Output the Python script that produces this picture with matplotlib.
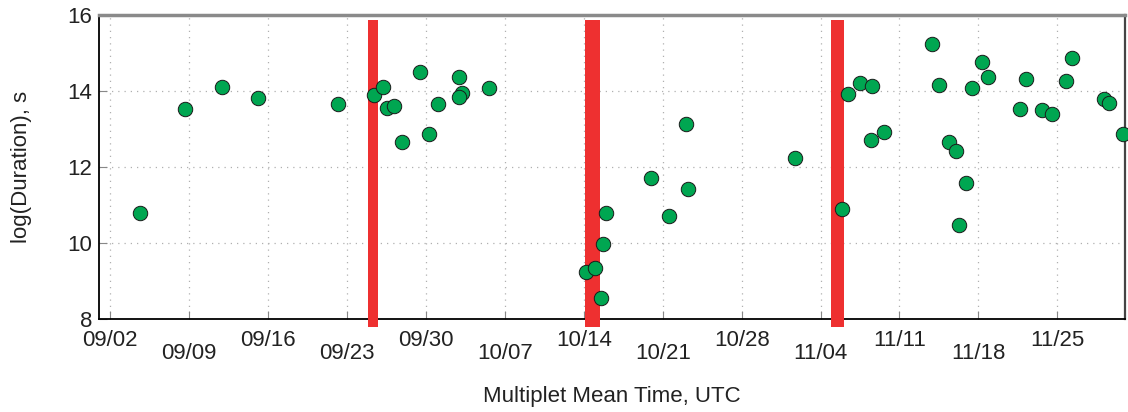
import numpy as np
import pandas as pd
import matplotlib
matplotlib.use('Agg')
import matplotlib.pyplot as plt
import matplotlib.dates as mdates

plt.rcParams['font.family'] = ['Liberation Sans', 'DejaVu Sans']

# multiplet mean times, days after 2011-09-01 00:00 UTC
start = pd.Timestamp('2011-09-01')
day_offset = [3.60, 7.65, 10.91, 14.07, 21.16, 24.36, 25.19, 25.55, 26.13, 26.90,
              28.50, 29.30, 30.07, 31.96, 32.20, 31.90, 34.56, 43.23, 43.96, 44.55,
              44.70, 45.00, 48.96, 50.52, 52.10, 52.21, 61.76, 65.93, 66.40, 67.46,
              68.56, 68.50, 69.59, 73.89, 74.53, 75.42, 76.01, 76.90, 76.31, 77.46,
              78.32, 78.82, 81.66, 82.23, 83.64, 84.53, 85.74, 86.34, 89.11, 89.55,
              90.83]
log_duration = [10.78, 13.53, 14.11, 13.81, 13.65, 13.90, 14.11, 13.54, 13.61, 12.65,
                14.51, 12.87, 13.66, 14.37, 13.96, 13.83, 14.07, 9.25, 9.33, 8.56,
                9.97, 10.80, 11.70, 10.71, 13.12, 11.43, 12.25, 10.89, 13.92, 14.20,
                14.13, 12.70, 12.93, 15.23, 14.15, 12.67, 12.42, 11.59, 10.47, 14.07,
                14.75, 14.38, 13.52, 14.32, 13.50, 13.40, 14.27, 14.88, 13.78, 13.68,
                12.87]

# eruption windows (start, end), days after start
event_start = [23.88, 43.13, 64.95]
event_end = [24.72, 44.48, 66.08]

times = start + pd.to_timedelta(day_offset, unit='D')

fig = plt.figure(figsize=(11.28, 4.12), dpi=100)
ax = fig.add_axes([0.0878, 0.2257, 0.9095, 0.7379])

for s, e in zip(event_start, event_end):
    ax.axvspan(start + pd.Timedelta(days=s), start + pd.Timedelta(days=e),
               ymin=-0.025, ymax=0.984, color='#ee3030', lw=0, clip_on=False, zorder=3)

ax.scatter(times, log_duration, s=108, c='#00a651', edgecolors='#1a1a1a',
           linewidths=0.7, zorder=4, clip_on=False)

ax.set_xlim(start, pd.Timestamp('2011-12-01'))
ax.set_ylim(8, 16)
ax.set_yticks([8, 10, 12, 14, 16])

# alternate date labels on two rows
ax.set_xticks(pd.date_range('2011-09-02', periods=7, freq='14D'))
ax.set_xticks(pd.date_range('2011-09-09', periods=6, freq='14D'), minor=True)
fmt = mdates.DateFormatter('%m/%d')
ax.xaxis.set_major_formatter(fmt)
ax.xaxis.set_minor_formatter(fmt)

ax.tick_params(axis='both', which='both', direction='in', length=6, width=0.8,
               color='#888888', labelsize=16, labelcolor='#222222')
ax.tick_params(axis='x', which='major', pad=8)
ax.tick_params(axis='x', which='minor', pad=17)
ax.tick_params(axis='y', pad=5)

ax.grid(True, which='both', linestyle=(0, (1, 4)), color='#b0b0b0', linewidth=0.9)
ax.set_axisbelow(True)

ax.spines['left'].set_color('black')
ax.spines['left'].set_linewidth(1.3)
ax.spines['bottom'].set_color('black')
ax.spines['bottom'].set_linewidth(1.3)
ax.spines['top'].set_color('#8a8a8a')
ax.spines['top'].set_linewidth(2.5)
ax.spines['right'].set_color('#444444')
ax.spines['right'].set_linewidth(1.6)

ax.set_xlabel('Multiplet Mean Time, UTC', fontsize=16, color='#222222', labelpad=16)
ax.set_ylabel('log(Duration), s', fontsize=16, color='#222222', labelpad=25)

fig.savefig('out.png', dpi=100)
